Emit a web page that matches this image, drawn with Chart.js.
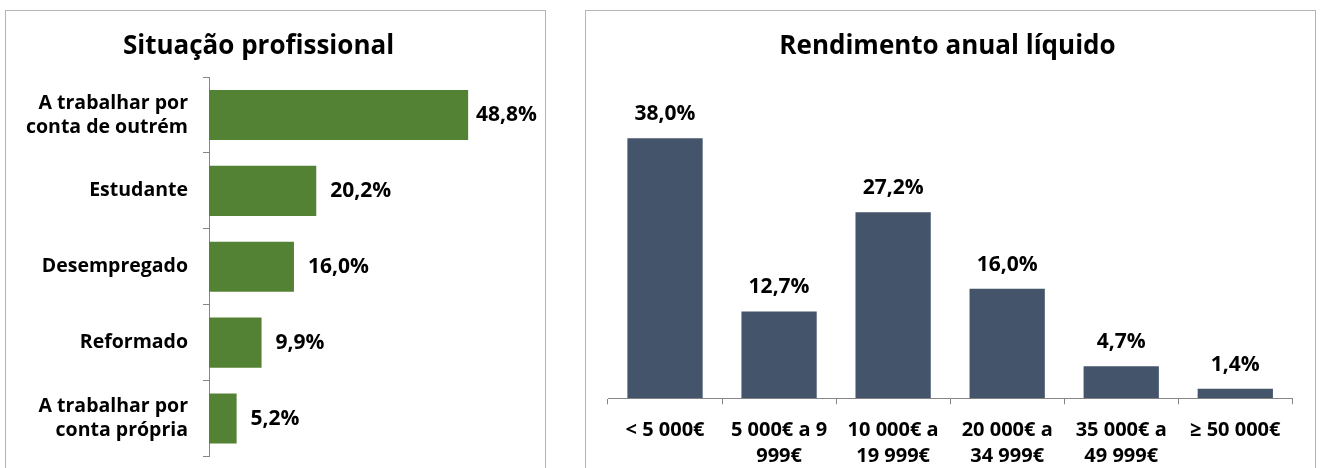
<!DOCTYPE html>
<html>
<head>
<meta charset="utf-8">
<script src="https://cdn.jsdelivr.net/npm/chart.js@4.4.1/dist/chart.umd.min.js"></script>
<style>
  html, body { margin:0; padding:0; background:#fff; width:1320px; height:468px; overflow:hidden; }
  canvas { position:absolute; top:0; }
  .panel { position:absolute; top:10px; height:480px; border:1px solid #B4B4B4; box-sizing:border-box; pointer-events:none; }
</style>
</head>
<body>
<div class="panel" style="left:5px;width:541px;"></div>
<div class="panel" style="left:585px;width:731px;"></div>
<canvas id="left" width="560" height="468" style="left:0;"></canvas>
<canvas id="right" width="730" height="468" style="left:585px;"></canvas>
<script>
// ---- data ----
const situacaoTitle = 'Situação profissional';
const situacaoLabels = [['A trabalhar por', 'conta de outrém'], 'Estudante', 'Desempregado', 'Reformado', ['A trabalhar por', 'conta própria']];
const situacaoValues = [48.8, 20.2, 16.0, 9.9, 5.2];

const rendimentoTitle = 'Rendimento anual líquido';
const rendimentoLabels = ['< 5 000€', ['5 000€ a 9', '999€'], ['10 000€ a', '19 999€'], ['20 000€ a', '34 999€'], ['35 000€ a', '49 999€'], '≥ 50 000€'];
const rendimentoValues = [38.0, 12.7, 27.2, 16.0, 4.7, 1.4];

// ---- styles ----
const FAMILY = '"Open Sans", "Noto Sans", sans-serif';
const AXIS = '#868686';
const fmt = v => v.toFixed(1).replace('.', ',') + '%';

const labelsH = {
  id: 'labelsH',
  afterDatasetsDraw(chart) {
    const ctx = chart.ctx;
    const meta = chart.getDatasetMeta(0);
    ctx.save();
    ctx.font = 'bold 21px ' + FAMILY;
    ctx.fillStyle = '#000';
    ctx.textAlign = 'left';
    ctx.textBaseline = 'middle';
    meta.data.forEach((el, i) => {
      const t = fmt(chart.data.datasets[0].data[i]);
      const w = ctx.measureText(t).width;
      let x = el.x + 14;
      if (x + w > chart.width - 23) x = chart.width - 23 - w;
      ctx.fillText(t, x, el.y);
    });
    ctx.restore();
  }
};

const labelsV = {
  id: 'labelsV',
  afterDatasetsDraw(chart) {
    const ctx = chart.ctx;
    const meta = chart.getDatasetMeta(0);
    ctx.save();
    ctx.font = 'bold 21px ' + FAMILY;
    ctx.fillStyle = '#000';
    ctx.textAlign = 'center';
    ctx.textBaseline = 'middle';
    meta.data.forEach((el, i) => {
      ctx.fillText(fmt(chart.data.datasets[0].data[i]), el.x, el.y - 24);
    });
    ctx.restore();
  }
};

new Chart(document.getElementById('left'), {
  type: 'bar',
  data: {
    labels: situacaoLabels,
    datasets: [{ data: situacaoValues, backgroundColor: '#548235', categoryPercentage: 1, barPercentage: 0.66 }]
  },
  options: {
    indexAxis: 'y',
    responsive: false,
    animation: false,
    devicePixelRatio: 1,
    layout: { padding: { left: 0, right: 43, top: 0, bottom: 11.5 } },
    plugins: {
      legend: { display: false },
      tooltip: { enabled: false },
      title: {
        display: true, text: situacaoTitle, color: '#000',
        font: { family: FAMILY, size: 26, weight: 'bold' },
        padding: { top: 31, bottom: 14.8 }
      }
    },
    scales: {
      x: { display: false, min: 0, max: 58 },
      y: {
        grid: { display: true, drawOnChartArea: false, offset: true, tickLength: 6, color: AXIS },
        border: { display: true, color: AXIS },
        ticks: { color: '#000', padding: 15, font: { family: FAMILY, size: 19.5, weight: 'bold', lineHeight: '24px' } },
        afterFit(s) { s.width = 209; s.paddingTop = 0; s.paddingBottom = 0; }
      }
    }
  },
  plugins: [labelsH]
});

new Chart(document.getElementById('right'), {
  type: 'bar',
  data: {
    labels: rendimentoLabels,
    datasets: [{ data: rendimentoValues, backgroundColor: '#44546A', categoryPercentage: 1, barPercentage: 0.66 }]
  },
  options: {
    responsive: false,
    animation: false,
    devicePixelRatio: 1,
    layout: { padding: { left: 17.7, right: 22.7, top: 0, bottom: 0 } },
    plugins: {
      legend: { display: false },
      tooltip: { enabled: false },
      title: {
        display: true, text: rendimentoTitle, color: '#000',
        font: { family: FAMILY, size: 26, weight: 'bold' },
        padding: { top: 31, bottom: 62.4 }
      }
    },
    scales: {
      x: {
        grid: { display: true, drawOnChartArea: false, offset: true, tickLength: 6, color: AXIS },
        border: { display: true, color: AXIS },
        ticks: { color: '#000', padding: 12.7, maxRotation: 0, autoSkip: false, font: { family: FAMILY, size: 20, weight: 'bold', lineHeight: '26px' } },
        afterFit(s) { s.height = 69.7; s.paddingLeft = 0; s.paddingRight = 0; }
      },
      y: {
        min: 0, max: 40,
        grid: { display: false },
        border: { display: false },
        ticks: { display: false },
        afterFit(s) { s.width = 5.3; }
      }
    }
  },
  plugins: [labelsV]
});
</script>
</body>
</html>
